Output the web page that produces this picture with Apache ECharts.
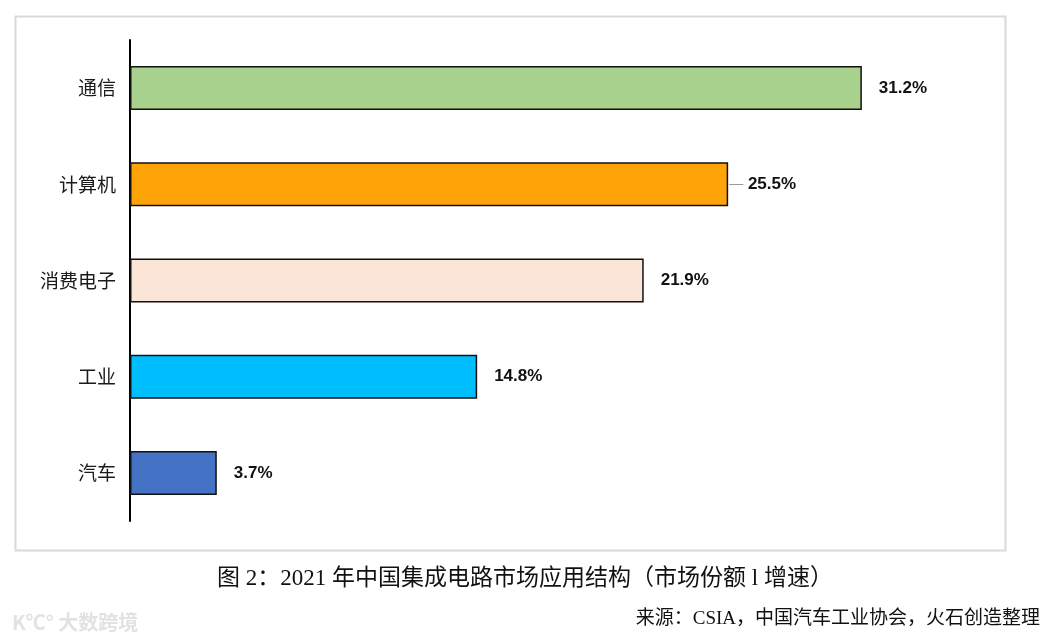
<!DOCTYPE html>
<html>
<head>
<meta charset="utf-8">
<script src="https://cdn.jsdelivr.net/npm/echarts@6/dist/echarts.min.js"></script>
<style>
html,body{margin:0;padding:0;background:#fff;}
#chart{width:1050px;height:644px;}
</style>
</head>
<body>
<div id="chart"></div>
<script>
const categories = ['通信', '计算机', '消费电子', '工业', '汽车'];
const shares = [31.2, 25.5, 21.9, 14.8, 3.7];
const barColors = ['#a9d18e', '#ffa408', '#fbe5d6', '#00bfff', '#4472c4'];
const captionText = '图 2：2021 年中国集成电路市场应用结构（市场份额 l 增速）';
const sourceText = '来源：CSIA，中国汽车工业协会，火石创造整理';

const chart = echarts.init(document.getElementById('chart'));
const serif = '"Liberation Serif", "Noto Sans CJK SC", serif';

chart.setOption({
  backgroundColor: '#fff',
  animation: false,
  grid: { left: 130, right: 99, top: 40, bottom: 123, containLabel: false },
  xAxis: {
    type: 'value', min: 0, max: 35,
    show: false
  },
  yAxis: {
    type: 'category', data: categories, inverse: true,
    axisLine: { show: true, lineStyle: { color: '#000', width: 2 } },
    axisTick: { show: false },
    axisLabel: { color: '#1a1a1a', fontSize: 19, margin: 14, fontFamily: '"Noto Sans CJK SC", sans-serif' }
  },
  series: [{
    type: 'bar',
    barWidth: 44,
    data: shares.map((v, i) => ({
      value: v,
      itemStyle: { color: barColors[i], borderColor: '#111', borderWidth: 1.5 },
      label: i === 1 ? {
        distance: 1,
        formatter: '{l|—} {v|' + v.toFixed(1) + '%}'
      } : {}
    })),
    label: {
      show: true, position: 'right', distance: 17,
      formatter: p => p.value.toFixed(1) + '%',
      color: '#111', fontSize: 17, fontWeight: 'bold',
      fontFamily: '"Liberation Sans", Arial, sans-serif',
      rich: {
        l: { color: '#999', fontSize: 14, fontWeight: 'normal', fontFamily: '"Liberation Sans", Arial, sans-serif' },
        v: { color: '#111', fontSize: 17, fontWeight: 'bold', fontFamily: '"Liberation Sans", Arial, sans-serif' }
      }
    }
  }],
  graphic: [
    { type: 'rect', left: 13, top: 14, silent: true,
      shape: { width: 990, height: 534 },
      style: { fill: 'none', stroke: '#d9d9d9', lineWidth: 2 } },
    { type: 'text', left: 'center', top: 567,
      style: { text: captionText, fill: '#111', font: '23px ' + serif } },
    { type: 'text', right: 10, top: 610,
      style: { text: sourceText, fill: '#111', font: '19px ' + serif } },
    { type: 'text', left: 12, top: 612,
      style: { text: 'K℃° 大数跨境', fill: '#e2e2e2', font: 'bold 20px "Noto Sans CJK SC", sans-serif' } }
  ]
});
</script>
</body>
</html>
